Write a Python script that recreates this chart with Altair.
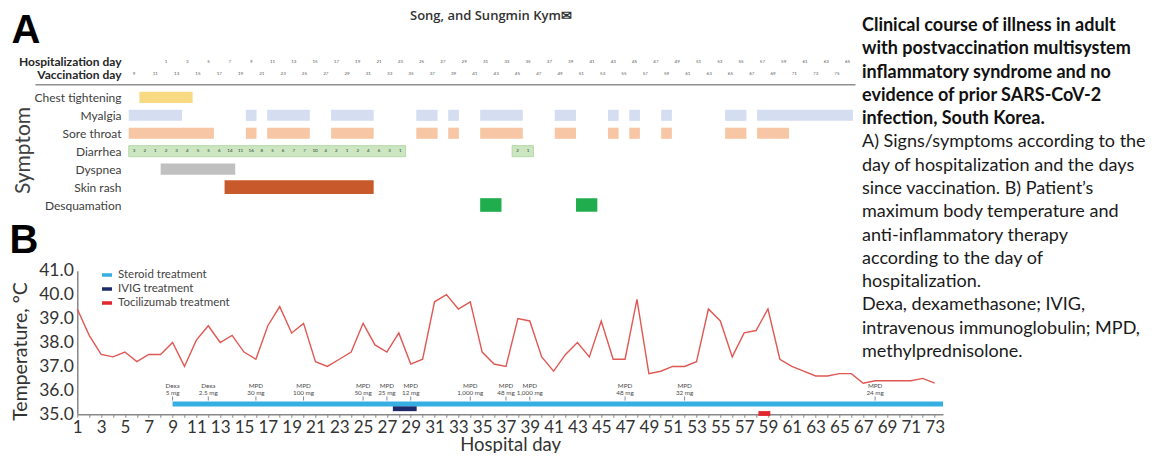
import altair as alt
import pandas as pd

# ---------------- values ----------------
AUTHORS = "Song, and Sungmin Kym\u2709"

HOSP_TICK_DAYS = list(range(1, 66, 2))
VACC_TICK_DAYS = list(range(9, 76, 2))
VACC_SHIFT = 11  # vaccination day = hospitalization day + 11

SYMPTOMS = ["Chest tightening", "Myalgia", "Sore throat", "Diarrhea",
            "Dyspnea", "Skin rash", "Desquamation"]
SYMPTOM_COLORS = ["#f8da82", "#d5ddf1", "#f7c7a5", "#cce6c1",
                  "#c0c0c0", "#c8592b", "#20ad4e"]

CHEST_START, CHEST_END = [-1], [3]
MYALGIA_START = [-2, 9, 11, 17, 25, 28, 31, 38, 43, 45, 48, 54, 57]
MYALGIA_END = [2, 9, 14, 20, 26, 28, 34, 39, 43, 45, 48, 55, 65]
SORE_START = [-2, 9, 11, 17, 25, 28, 31, 38, 43, 45, 48, 54, 57]
SORE_END = [5, 9, 14, 20, 26, 28, 34, 39, 43, 45, 48, 55, 59]
DIARRHEA_START, DIARRHEA_END = [-2, 34], [23, 35]
DYSPNEA_START, DYSPNEA_END = [1], [7]
RASH_START, RASH_END = [7], [20]
DESQ_START, DESQ_END = [31, 40], [32, 41]

DIARRHEA_DAYS = list(range(-2, 24)) + [34, 35]
DIARRHEA_COUNTS = [3, 2, 1, 2, 3, 4, 5, 5, 6, 14, 11, 16, 8, 5, 6, 7, 7, 10,
                   4, 2, 1, 2, 4, 6, 3, 1, 2, 1]

TEMP_DAYS = list(range(1, 74))
TEMP_MAX = [39.4, 38.3, 37.5, 37.4, 37.6, 37.2, 37.5, 37.5, 38.0, 37.0,
            38.1, 38.7, 38.0, 38.3, 37.6, 37.3, 38.7, 39.5, 38.4, 38.8,
            37.2, 37.0, 37.3, 37.6, 38.8, 37.9, 37.6, 38.4, 37.1, 37.3,
            39.7, 40.0, 39.4, 39.7, 37.6, 37.1, 37.0, 39.0, 38.9, 37.4,
            36.8, 37.5, 38.0, 37.4, 38.9, 37.3, 37.3, 39.8, 36.7, 36.8,
            37.0, 37.0, 37.2, 39.4, 38.9, 37.4, 38.4, 38.5, 39.4, 37.3,
            37.0, 36.8, 36.6, 36.6, 36.7, 36.7, 36.3, 36.4, 36.4, 36.4,
            36.4, 36.5, 36.3]
TEMP_TICKS = [35.0, 36.0, 37.0, 38.0, 39.0, 40.0, 41.0]

TREATMENTS = ["Steroid treatment", "IVIG treatment", "Tocilizumab treatment"]
TREAT_COLORS = ["#35aee2", "#1c2a6b", "#e1262d"]
TREAT_START = [9, 27.5, 58.2]
TREAT_END = [73.7, 29.5, 59.2]

DOSE_DAYS = [9, 12, 16, 20, 25, 27, 29, 34, 37, 39, 47, 52, 68]
DOSE_DRUG = ["Dexa", "Dexa", "MPD", "MPD", "MPD", "MPD", "MPD", "MPD",
             "MPD", "MPD", "MPD", "MPD", "MPD"]
DOSE_AMOUNT = ["5 mg", "2.5 mg", "30 mg", "100 mg", "50 mg", "25 mg", "12 mg",
               "1,000 mg", "48 mg", "1,000 mg", "48 mg", "32 mg", "24 mg"]

CAPTION_BOLD = [
    "Clinical course of illness in adult",
    "with postvaccination multisystem",
    "inflammatory syndrome and no",
    "evidence of prior SARS-CoV-2",
    "infection, South Korea.",
]
CAPTION_TEXT = [
    "A) Signs/symptoms according to the",
    "day of hospitalization and the days",
    "since vaccination. B) Patient\u2019s",
    "maximum body temperature and",
    "anti-inflammatory therapy",
    "according to the day of",
    "hospitalization.",
    "Dexa, dexamethasone; IVIG,",
    "intravenous immunoglobulin; MPD,",
    "methylprednisolone.",
]

# ---------------- layout (page pixels) ----------------
PAGE_W, PAGE_H = 1143, 445
ORIGIN_X, ORIGIN_Y = 77.3, 270.7      # page position of the temperature plot origin


def px(x):
    return x - ORIGIN_X


def py(y):
    return y - ORIGIN_Y


PLOT_W = 943 - ORIGIN_X
PLOT_H = 414.3 - ORIGIN_Y
DAY1_X, DAY_W = 166.0, 10.65          # top panel: page x of hospital day 1 and day width
HOSP_ROW, VACC_ROW = -2, -1.28
FONT = "Lato"
CAP_FIRST, CAP_LAST = 26, 352

TOP_X = alt.Scale(domain=[1 + (35 - DAY1_X) / DAY_W, 1 + (855 - DAY1_X) / DAY_W],
                  range=[px(35), px(855)], nice=False, zero=False)
TOP_Y = alt.Scale(domain=[HOSP_ROW, len(SYMPTOMS) - 1],
                  range=[py(61.5), py(205)], nice=False, zero=False)
TEMP_X = alt.Scale(domain=[1, 73.7], nice=False, zero=False)
TEMP_Y = alt.Scale(domain=[35, 41], nice=False, zero=False)
TREAT_Y = alt.Scale(type="point", domain=TREATMENTS,
                    range=[py(404), py(413.5)], padding=0)
CAP_Y = alt.Scale(domain=[0, 14], range=[py(CAP_FIRST), py(CAP_LAST)],
                  nice=False, zero=False)

# ---------------- panel A ----------------
ep_rows = []
for name, starts, ends in [
    ("Chest tightening", CHEST_START, CHEST_END),
    ("Myalgia", MYALGIA_START, MYALGIA_END),
    ("Sore throat", SORE_START, SORE_END),
    ("Diarrhea", DIARRHEA_START, DIARRHEA_END),
    ("Dyspnea", DYSPNEA_START, DYSPNEA_END),
    ("Skin rash", RASH_START, RASH_END),
    ("Desquamation", DESQ_START, DESQ_END),
]:
    for s, e in zip(starts, ends):
        ep_rows.append({"symptom": name, "row": SYMPTOMS.index(name),
                        "start": s, "end": e})
episodes = pd.DataFrame(ep_rows)

row_names = "[" + ",".join("'" + s + "'" for s in SYMPTOMS) + "]"
label_expr = ("datum.value == %s ? 'Hospitalization day' : "
              "datum.value == %s ? 'Vaccination day' : %s[datum.value]"
              % (HOSP_ROW, VACC_ROW, row_names))

top_x_axis = alt.Axis(orient="top", offset=-py(84.3), labels=False, ticks=False,
                      grid=False, title=None, domainColor="#8f8f8f", domainWidth=1.5)
top_y_axis = alt.Axis(
    orient="left", offset=-px(125), values=[HOSP_ROW, VACC_ROW] + list(range(len(SYMPTOMS))),
    labelExpr=label_expr, domain=False, ticks=False, grid=False, labelPadding=4,
    labelFont=FONT, labelFontSize=12, labelOverlap=False, labelFlush=False,
    labelColor={"condition": {"test": "datum.value < 0", "value": "#262626"}, "value": "#404040"},
    labelFontWeight={"condition": {"test": "datum.value < 0", "value": "bold"}, "value": "normal"},
    title="Symptom", titleFont=FONT, titleFontSize=21, titleFontWeight="normal",
    titleColor="#404040", titleX=px(23) - px(125), titleY=py(150), titleAngle=270,
    titleAlign="center", titleBaseline="middle",
)

symptom_bars = alt.Chart(episodes).transform_calculate(
    x0="datum.start - 0.5", x1="datum.end + 0.5",
    half="(datum.symptom == 'Skin rash' || datum.symptom == 'Desquamation') ? 0.38 : 0.31",
).transform_calculate(
    y0="datum.row - datum.half", y1="datum.row + datum.half",
).mark_rect(stroke="#a9d49b").encode(
    x=alt.X("x0:Q", scale=TOP_X, axis=top_x_axis),
    x2="x1:Q",
    y=alt.Y("y0:Q", scale=TOP_Y, axis=top_y_axis),
    y2="y1:Q",
    color=alt.Color("symptom:N", scale=alt.Scale(domain=SYMPTOMS, range=SYMPTOM_COLORS),
                    legend=None),
    strokeWidth=alt.condition("datum.symptom == 'Diarrhea'", alt.value(0.8), alt.value(0)),
)

diarrhea_numbers = alt.Chart(
    pd.DataFrame({"day": DIARRHEA_DAYS, "n": DIARRHEA_COUNTS})
).mark_text(font=FONT, fontSize=4.5, color="#2b3b2b").encode(
    x=alt.X("day:Q", scale=TOP_X, axis=None),
    y=alt.YDatum(SYMPTOMS.index("Diarrhea"), type="quantitative", scale=TOP_Y, axis=None),
    text="n:Q",
)

hosp_numbers = alt.Chart(pd.DataFrame({"day": HOSP_TICK_DAYS})).mark_text(
    font=FONT, fontSize=4.5, color="#555555"
).encode(
    x=alt.X("day:Q", scale=TOP_X, axis=None),
    y=alt.YDatum(HOSP_ROW, type="quantitative", scale=TOP_Y, axis=None),
    text="day:Q",
)

vacc_numbers = alt.Chart(pd.DataFrame({"vday": VACC_TICK_DAYS})).transform_calculate(
    day="datum.vday - %d" % VACC_SHIFT
).mark_text(font=FONT, fontSize=4.5, color="#555555").encode(
    x=alt.X("day:Q", scale=TOP_X, axis=None),
    y=alt.YDatum(VACC_ROW, type="quantitative", scale=TOP_Y, axis=None),
    text="vday:Q",
)

# ---------------- panel B ----------------
temp_line = alt.Chart(pd.DataFrame({"day": TEMP_DAYS, "temp": TEMP_MAX})).mark_line(
    color="#e05853", strokeWidth=1.4
).encode(
    x=alt.X("day:Q", scale=TEMP_X, axis=alt.Axis(
        orient="bottom", values=TEMP_DAYS,
        labelExpr="datum.value % 2 == 1 ? datum.label : ''",
        labelFont=FONT, labelFontSize=17, labelColor="#333333", labelPadding=2,
        labelOverlap=False, labelFlush=False, tickSize=3, tickColor="#888888",
        domainColor="#888888", domainWidth=1.5, grid=False,
        title="Hospital day", titleFont=FONT, titleFontSize=18.5, titleFontWeight="normal",
        titleColor="#333333", titleY=450.5 - 414.3, titleBaseline="alphabetic")),
    y=alt.Y("temp:Q", scale=TEMP_Y, axis=alt.Axis(
        orient="left", values=TEMP_TICKS, format=".1f",
        labelFont=FONT, labelFontSize=17.5, labelColor="#333333", labelPadding=4,
        ticks=False, domainColor="#888888", domainWidth=1.5, grid=False,
        labelFlush=False, labelOverlap=False,
        title="Temperature, \u00b0C", titleFont=FONT, titleFontSize=19.5,
        titleFontWeight="normal", titleColor="#333333",
        titleX=px(20.5), titleY=py(351), titleAngle=270,
        titleAlign="center", titleBaseline="middle")),
)

treat_rules = alt.Chart(pd.DataFrame({
    "treatment": TREATMENTS, "start": TREAT_START, "end": TREAT_END
})).mark_rule(strokeWidth=4.8, strokeCap="butt").encode(
    x=alt.X("start:Q", scale=TEMP_X, axis=None),
    x2="end:Q",
    y=alt.Y("treatment:N", scale=TREAT_Y, axis=None),
    color=alt.Color("treatment:N", scale=alt.Scale(domain=TREATMENTS, range=TREAT_COLORS),
                    legend=alt.Legend(orient="none", legendX=px(100), legendY=py(268),
                                      title=None, symbolType="stroke", symbolStrokeWidth=3.5,
                                      symbolSize=100, labelFont=FONT, labelFontSize=11.5,
                                      labelColor="#444444", rowPadding=0, labelOffset=4,
                                      padding=0)),
)

dose_df = pd.DataFrame({"day": DOSE_DAYS, "drug": DOSE_DRUG, "dose": DOSE_AMOUNT})
dose_text = alt.Chart(dose_df).transform_calculate(
    label="datum.drug + '\\n' + datum.dose"
).mark_text(font=FONT, fontSize=6.3, lineHeight=7, lineBreak="\n", color="#4a4a4a",
            baseline="bottom", dy=-15).encode(
    x=alt.X("day:Q", scale=TEMP_X, axis=None),
    y=alt.YDatum(TREATMENTS[0], type="nominal", scale=TREAT_Y, axis=None),
    text="label:N",
)
dose_ticks = alt.Chart(dose_df).mark_tick(orient="vertical", size=4, thickness=1,
                                          yOffset=-5.5, color="#4a5a70").encode(
    x=alt.X("day:Q", scale=TEMP_X, axis=None),
    y=alt.YDatum(TREATMENTS[0], type="nominal", scale=TREAT_Y, axis=None),
)

# ---------------- caption, panel letters, authors ----------------
cap_bold = alt.Chart(pd.DataFrame({"i": list(range(len(CAPTION_BOLD))), "t": CAPTION_BOLD})).mark_text(
    font=FONT, fontSize=18, fontWeight="bold", color="#111111", align="left", baseline="middle"
).encode(
    x=alt.value(px(862)),
    y=alt.Y("i:Q", scale=CAP_Y, axis=None),
    text="t:N",
)
cap_text = alt.Chart(pd.DataFrame({
    "i": list(range(len(CAPTION_BOLD), len(CAPTION_BOLD) + len(CAPTION_TEXT))), "t": CAPTION_TEXT
})).mark_text(
    font=FONT, fontSize=18, color="#1a1a1a", align="left", baseline="middle"
).encode(
    x=alt.value(px(862)),
    y=alt.Y("i:Q", scale=CAP_Y, axis=None),
    text="t:N",
)

letter_a = alt.Chart(pd.DataFrame({"t": ["A"]})).mark_text(
    font="Liberation Sans", fontSize=40, fontWeight="bold", color="#000000",
    align="center", baseline="middle"
).encode(x=alt.value(px(26)), y=alt.value(py(31)), text="t:N")
letter_b = alt.Chart(pd.DataFrame({"t": ["B"]})).mark_text(
    font="Liberation Sans", fontSize=40, fontWeight="bold", color="#000000",
    align="center", baseline="middle"
).encode(x=alt.value(px(24)), y=alt.value(py(241)), text="t:N")
authors = alt.Chart(pd.DataFrame({"t": [AUTHORS]})).mark_text(
    font="Open Sans", fontSize=13, fontWeight=600, color="#333333",
    align="left", baseline="alphabetic"
).encode(x=alt.value(px(410)), y=alt.value(py(20)), text="t:N")

chart = alt.layer(
    symptom_bars, diarrhea_numbers, hosp_numbers, vacc_numbers,
    temp_line, treat_rules, dose_text, dose_ticks,
    cap_bold, cap_text, letter_a, letter_b, authors,
).resolve_scale(
    x="independent", y="independent", color="independent"
).properties(
    width=PLOT_W, height=PLOT_H,
    autosize=alt.AutoSizeParams(type="none"),
    padding={"left": ORIGIN_X - 8, "top": ORIGIN_Y - 8,
             "right": PAGE_W - (ORIGIN_X - 8) - PLOT_W,
             "bottom": PAGE_H - (ORIGIN_Y - 8) - PLOT_H},
).configure_view(strokeWidth=0)

chart.save("out.html", embed_options={"renderer": "svg", "actions": False})
